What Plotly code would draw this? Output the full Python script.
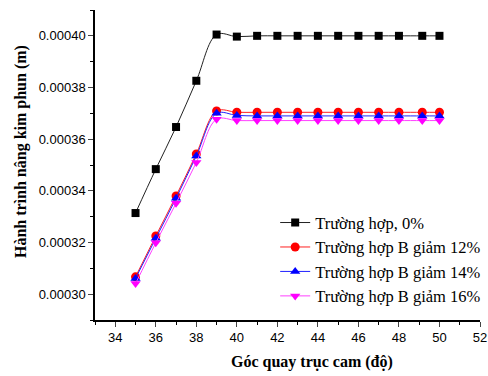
import plotly.graph_objects as go

x = [35, 36, 37, 38, 39, 40, 41, 42, 43, 44, 45, 46, 47, 48, 49.15, 50]
y0 = [0.0003314, 0.0003484, 0.0003647, 0.0003826, 0.0004005, 0.0003997, 0.0004, 0.0004, 0.0004, 0.0004, 0.0004, 0.0004, 0.0004, 0.0004, 0.0004, 0.0004]
y12 = [0.0003067, 0.0003225, 0.000338, 0.0003543, 0.0003709, 0.0003704, 0.0003704, 0.0003704, 0.0003704, 0.0003704, 0.0003704, 0.0003704, 0.0003704, 0.0003704, 0.0003704, 0.0003704]
y14 = [0.0003061, 0.0003216, 0.0003371, 0.0003535, 0.00037, 0.0003692, 0.000369, 0.000369, 0.000369, 0.000369, 0.000369, 0.000369, 0.000369, 0.000369, 0.000369, 0.000369]
y16 = [0.0003041, 0.0003199, 0.0003352, 0.000351, 0.0003677, 0.0003672, 0.0003672, 0.0003672, 0.0003672, 0.0003672, 0.0003672, 0.0003672, 0.0003672, 0.0003672, 0.0003672, 0.0003672]
names = ["Trường hợp, 0%", "Trường hợp B giảm 12%", "Trường hợp B giảm 14%", "Trường hợp B giảm 16%"]
x_title = "Góc quay trục cam (độ)"
y_title = "Hành trình nâng kim phun (m)"

series = [
    (y0, "#222222", "#000000", "square", 8),
    (y12, "#ff2020", "#ff0000", "circle", 9),
    (y14, "#2020ff", "#0000ff", "triangle-up", 9),
    (y16, "#ff40ff", "#ff00ff", "triangle-down", 9),
]

fig = go.Figure()
for (ys, lc, mc, sym, sz), nm in zip(series, names):
    fig.add_trace(go.Scatter(
        x=x, y=ys, name=nm, mode="lines+markers",
        line=dict(color=lc, width=1, shape="spline", smoothing=1),
        marker=dict(symbol=sym, size=sz, color=mc),
    ))

fig.update_layout(
    width=488, height=376,
    margin=dict(l=95, r=8, t=10, b=56, autoexpand=False),
    paper_bgcolor="white", plot_bgcolor="white",
    showlegend=True,
    legend=dict(x=0.468, y=0.37, xanchor="left", yanchor="top",
                font=dict(family="Liberation Serif", size=16.5, color="black"),
                bgcolor="rgba(0,0,0,0)", tracegroupgap=0),
    font=dict(family="Liberation Sans", size=13, color="black"),
    annotations=[
        dict(text="<b>" + x_title + "</b>", xref="paper", yref="paper", x=0.564, y=-0.135,
             xanchor="center", yanchor="middle", showarrow=False,
             font=dict(family="Liberation Serif", size=16)),
        dict(text="<b>" + y_title + "</b>", xref="paper", yref="paper", x=-0.192, y=0.542,
             xanchor="center", yanchor="middle", showarrow=False, textangle=-90,
             font=dict(family="Liberation Serif", size=16)),
    ],
)
fig.update_xaxes(
    range=[33, 52], dtick=2, tick0=34, ticks="outside", ticklen=5, tickwidth=1,
    showline=True, linecolor="black", linewidth=1.5, showgrid=False, zeroline=False,
    minor=dict(dtick=1, ticks="outside", ticklen=3, tickcolor="black"),
    tickfont=dict(family="Liberation Sans", size=13), automargin=False,
)
fig.update_yaxes(
    range=[0.00029, 0.00041], dtick=0.00002, tick0=0.0003, tickformat=".5f",
    ticks="outside", ticklen=5, tickwidth=1,
    showline=True, linecolor="black", linewidth=1.5, showgrid=False, zeroline=False,
    minor=dict(dtick=0.00001, ticks="outside", ticklen=3, tickcolor="black"),
    tickfont=dict(family="Liberation Sans", size=13), automargin=False,
)
fig.write_html("out.html")
